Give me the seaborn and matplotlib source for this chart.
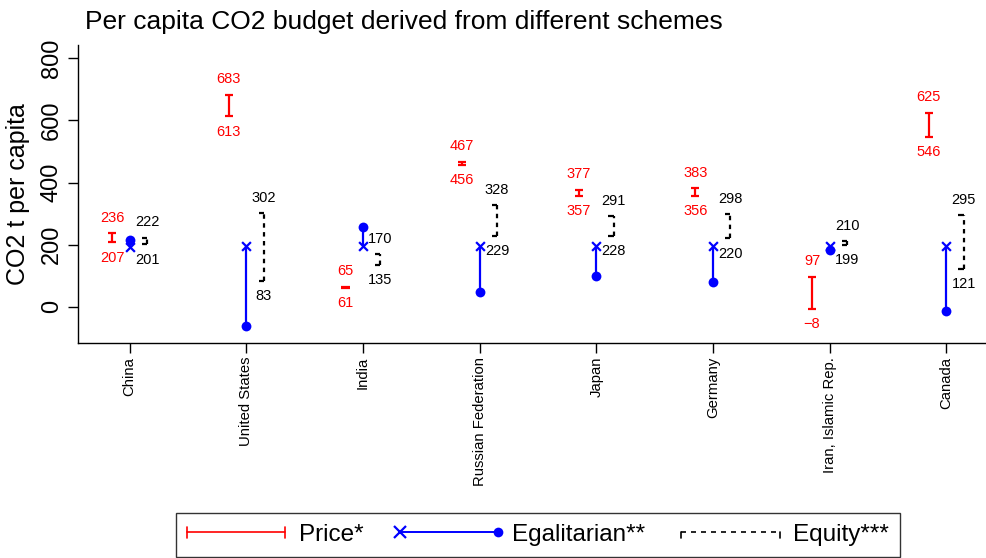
import numpy as np
import pandas as pd
import matplotlib
matplotlib.use("Agg")
import matplotlib.pyplot as plt
from matplotlib.legend_handler import HandlerBase
from matplotlib.lines import Line2D
import seaborn as sns

# data
countries = ["China", "United States", "India", "Russian Federation",
             "Japan", "Germany", "Iran, Islamic Rep.", "Canada"]
price_high = [236, 683, 65, 467, 377, 383, 97, 625]
price_low = [207, 613, 61, 456, 357, 356, -8, 546]
egal_world = [193, 195, 195, 195, 195, 195, 195, 195]
egal_country = [216, -63, 257, 46, 98, 79, 181, -15]
equity_high = [222, 302, 170, 328, 291, 298, 210, 295]
equity_low = [201, 83, 135, 229, 228, 220, 199, 121]
yticks = [0, 200, 400, 600, 800]

sns.set_theme(style="white")
plt.rcParams["font.family"] = ["Liberation Sans", "DejaVu Sans"]
plt.rcParams.update({"text.color": "black", "axes.labelcolor": "black",
                     "xtick.color": "black", "ytick.color": "black"})

RED, BLUE, BLACK = "#FF0000", "#0000FF", "black"

x = np.arange(len(countries))
xp, xe, xq = x - 0.15, x, x + 0.15

fig = plt.figure(figsize=(9.87, 5.58), dpi=100)
ax = fig.add_axes([78 / 987, 215 / 558, 1 - 78 / 987, 298 / 558])

def fmt(v):
    return str(v).replace("-", "\u2212")

# Price*
ax.vlines(xp, price_low, price_high, color=RED, lw=1.6)
ax.hlines(price_high, xp - 0.035, xp + 0.035, color=RED, lw=1.6)
ax.hlines(price_low, xp - 0.035, xp + 0.035, color=RED, lw=1.6)
for xi, hi, lo in zip(xp, price_high, price_low):
    ax.annotate(fmt(hi), (xi, hi), xytext=(0, 11), textcoords="offset points",
                ha="center", va="center", color=RED, fontsize=10.5)
    ax.annotate(fmt(lo), (xi, lo), xytext=(0, -11), textcoords="offset points",
                ha="center", va="center", color=RED, fontsize=10.5)

# Egalitarian**
ax.vlines(xe, egal_country, egal_world, color=BLUE, lw=1.6)
pts = pd.DataFrame({"x": np.concatenate([xe, xe]),
                    "y": egal_world + egal_country,
                    "kind": ["world"] * len(x) + ["country"] * len(x)})
sns.scatterplot(data=pts[pts.kind == "country"], x="x", y="y", ax=ax,
                color=BLUE, marker="o", s=50, edgecolor=BLUE, linewidth=0, zorder=3)
sns.scatterplot(data=pts[pts.kind == "world"], x="x", y="y", ax=ax,
                color=BLUE, marker="x", s=40, linewidth=1.6, zorder=3)

# Equity***
ax.vlines(xq, equity_low, equity_high, color=BLACK, lw=1.6, linestyles=(0, (2, 2)))
ax.hlines(equity_high, xq - 0.045, xq, color=BLACK, lw=1.6)
ax.hlines(equity_low, xq - 0.045, xq, color=BLACK, lw=1.6)
for xi, hi, lo in zip(xq, equity_high, equity_low):
    ax.annotate(fmt(hi), (xi, hi), xytext=(0, 11), textcoords="offset points",
                ha="center", va="center", color=BLACK, fontsize=10.5)
    ax.annotate(fmt(lo), (xi, lo), xytext=(0, -11), textcoords="offset points",
                ha="center", va="center", color=BLACK, fontsize=10.5)

ax.set_xlim(-0.443, 7.35)
ax.set_ylim(-117, 843)
ax.set_xticks(x)
ax.set_xticklabels(countries, rotation=90, fontsize=10.7)
ax.set_yticks(yticks)
ax.set_yticklabels([str(v) for v in yticks], rotation=90, va="center", fontsize=17)
ax.tick_params(axis="x", length=7, width=1, color=BLACK, pad=3, bottom=True)
ax.tick_params(axis="y", length=7, width=1, color=BLACK, pad=4, left=True)
ax.set_xlabel("")
ax.set_ylabel("CO2 t per capita", fontsize=18, labelpad=8)
for s in ["top", "right"]:
    ax.spines[s].set_visible(False)
for s in ["left", "bottom"]:
    ax.spines[s].set_color(BLACK)
    ax.spines[s].set_linewidth(1)

fig.text(85 / 987, 1 - 22 / 558, "Per capita CO2 budget derived from different schemes",
         fontsize=19, ha="left", va="center")


class RangeHandler(HandlerBase):
    def __init__(self, kind):
        super().__init__()
        self.kind = kind

    def create_artists(self, legend, orig_handle, xdescent, ydescent,
                       width, height, fontsize, trans):
        x0, x1 = -xdescent, width - xdescent
        y = height / 2 - ydescent
        h = height * 0.3
        arts = []
        if self.kind == "price":
            arts.append(Line2D([x0, x1], [y, y], color=RED, lw=1.2))
            arts.append(Line2D([x0, x0], [y - h, y + h], color=RED, lw=1.2))
            arts.append(Line2D([x1, x1], [y - h, y + h], color=RED, lw=1.2))
        elif self.kind == "egal":
            arts.append(Line2D([x0, x1], [y, y], color=BLUE, lw=1.4))
            arts.append(Line2D([x0], [y], color=BLUE, marker="x", ms=8, mew=1.6))
            arts.append(Line2D([x1], [y], color=BLUE, marker="o", ms=7, mew=0))
        else:
            arts.append(Line2D([x0, x1], [y, y], color=BLACK, lw=1.2, ls=(0, (3, 3))))
            arts.append(Line2D([x0, x0], [y - h, y], color=BLACK, lw=1.2))
            arts.append(Line2D([x1, x1], [y - h, y], color=BLACK, lw=1.2))
        for a in arts:
            a.set_transform(trans)
        return arts


h_price, h_egal, h_eq = Line2D([], []), Line2D([], []), Line2D([], [])
leg = fig.legend([h_price, h_egal, h_eq], ["Price*", "Egalitarian**", "Equity***"],
                 handler_map={h_price: RangeHandler("price"), h_egal: RangeHandler("egal"),
                              h_eq: RangeHandler("equity")},
                 loc="upper center", bbox_to_anchor=(0.545, 1 - 513 / 558), ncol=3,
                 fontsize=17.5, handlelength=4.05, handletextpad=0.55, columnspacing=1.5,
                 frameon=True, fancybox=False, borderpad=0.45, borderaxespad=0)
leg.get_frame().set_edgecolor(BLACK)
leg.get_frame().set_linewidth(1)

fig.savefig("out.png", dpi=100)
